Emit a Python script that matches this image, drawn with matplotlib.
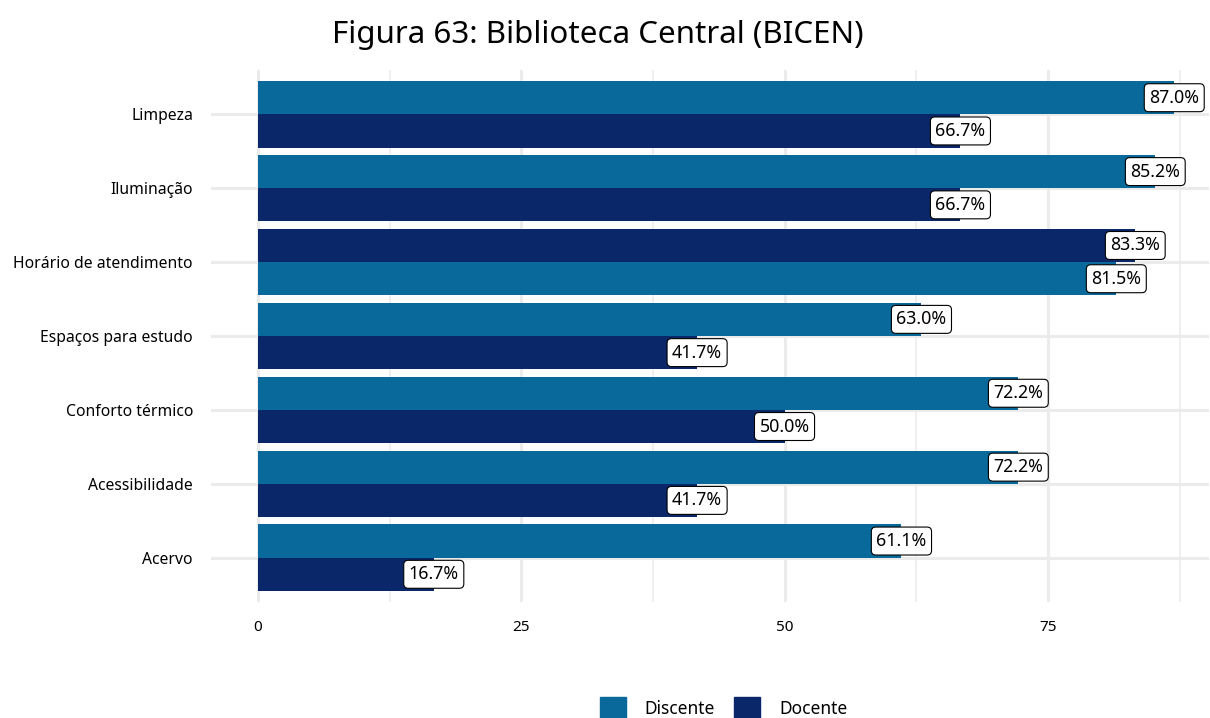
import numpy as np
import matplotlib.pyplot as plt
from matplotlib.patches import Patch

plt.rcParams['font.family'] = ['Noto Sans', 'DejaVu Sans']

categorias = ["Acervo", "Acessibilidade", "Conforto térmico", "Espaços para estudo",
              "Horário de atendimento", "Iluminação", "Limpeza"]
discente = [61.1, 72.2, 72.2, 63.0, 81.5, 85.2, 87.0]
docente = [16.7, 41.7, 50.0, 41.7, 83.3, 66.7, 66.7]

cor_discente = "#08699A"
cor_docente = "#0A2869"

fig = plt.figure(figsize=(12.1, 7.18), dpi=100)
ax = fig.add_axes([211 / 1210, 1 - 602 / 718, 998 / 1210, 532 / 718])

y = np.arange(len(categorias))
h = 0.45
for i, (d, p) in enumerate(zip(discente, docente)):
    # the larger value sits on the upper half of each group
    if d >= p:
        pos = {"d": y[i] + h / 2, "p": y[i] - h / 2}
    else:
        pos = {"d": y[i] - h / 2, "p": y[i] + h / 2}
    for key, val, cor in (("d", d, cor_discente), ("p", p, cor_docente)):
        ax.barh(pos[key], val, height=h, color=cor, zorder=2)
        ax.text(val, pos[key], f"{val:.1f}%", ha="center", va="center",
                fontsize=12.8, color="black", zorder=3,
                bbox=dict(boxstyle="round,pad=0.28,rounding_size=0.25",
                          fc="white", ec="black", lw=0.8))

ax.set_xlim(-4.45, 90.3)
ax.set_ylim(-0.6, len(categorias) - 0.4)
ax.set_yticks(y)
ax.set_yticklabels(categorias, fontsize=11.3)
ax.set_xticks([0, 25, 50, 75])
ax.set_xticklabels(["0", "25", "50", "75"], fontsize=11)
ax.set_xticks([12.5, 37.5, 62.5, 87.5], minor=True)
ax.tick_params(axis="both", which="both", length=0)
ax.tick_params(axis="y", pad=13)
ax.tick_params(axis="x", pad=13)
ax.grid(True, which="major", color="#EBEBEB", lw=2.2, zorder=0)
ax.grid(True, which="minor", axis="x", color="#EBEBEB", lw=1.1, zorder=0)
ax.set_axisbelow(True)
for s in ax.spines.values():
    s.set_visible(False)

fig.suptitle("Figura 63: Biblioteca Central (BICEN)", fontsize=22.5, x=0.494, y=0.972,
             va="top")

handles = [Patch(color=cor_discente, label="Discente"), Patch(color=cor_docente, label="Docente")]
fig.legend(handles=handles, loc="center", bbox_to_anchor=(0.598, 1 - 708 / 718), ncol=2,
           frameon=False, fontsize=12.5, handlelength=1.5, handleheight=1.5,
           handletextpad=1.1, columnspacing=1.1)

fig.savefig("out.png", dpi=100)
